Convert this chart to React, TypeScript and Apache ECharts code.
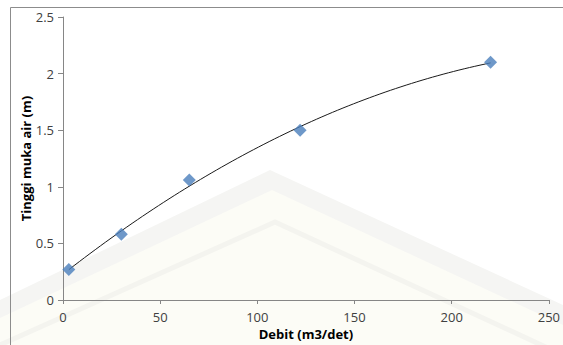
import React, { useEffect, useRef } from "react";
import * as echarts from "echarts";

const debit: number[] = [3, 30, 65, 122, 220];
const tinggi: number[] = [0.27, 0.58, 1.06, 1.5, 2.1];
const xTitle = "Debit (m3/det)";
const yTitle = "Tinggi muka air (m)";

// Least-squares 2nd order polynomial trendline (as in the spreadsheet trendline)
function polyFit2(xs: number[], ys: number[]): [number, number, number] {
  const n = xs.length;
  let s1 = 0, s2 = 0, s3 = 0, s4 = 0, t0 = 0, t1 = 0, t2 = 0;
  for (let i = 0; i < n; i++) {
    const x = xs[i], y = ys[i];
    s1 += x; s2 += x * x; s3 += x * x * x; s4 += x * x * x * x;
    t0 += y; t1 += x * y; t2 += x * x * y;
  }
  const M = [
    [n, s1, s2, t0],
    [s1, s2, s3, t1],
    [s2, s3, s4, t2],
  ];
  for (let c = 0; c < 3; c++) {
    let p = c;
    for (let r = c + 1; r < 3; r++) if (Math.abs(M[r][c]) > Math.abs(M[p][c])) p = r;
    [M[c], M[p]] = [M[p], M[c]];
    for (let r = 0; r < 3; r++) {
      if (r === c) continue;
      const f = M[r][c] / M[c][c];
      for (let k = c; k < 4; k++) M[r][k] -= f * M[c][k];
    }
  }
  return [M[0][3] / M[0][0], M[1][3] / M[1][1], M[2][3] / M[2][2]];
}

export default function App() {
  const ref = useRef<HTMLDivElement>(null);
  useEffect(() => {
    if (!ref.current) return;
    const chart = echarts.init(ref.current, undefined, { renderer: "svg" });
    const [a, b, c] = polyFit2(debit, tinggi);
    const xMin = Math.min(...debit), xMax = Math.max(...debit);
    const trend: number[][] = [];
    const steps = 80;
    for (let i = 0; i <= steps; i++) {
      const x = xMin + ((xMax - xMin) * i) / steps;
      trend.push([x, a + b * x + c * x * x]);
    }
    const font = "'Open Sans', 'Noto Sans', sans-serif";
    chart.setOption({
      animation: false,
      backgroundColor: "#ffffff",
      textStyle: { fontFamily: font },
      grid: { left: 63, right: 10, top: 17, bottom: 44 },
      graphic: [
        {
          type: "polygon",
          z: -10,
          silent: true,
          shape: { points: [[0, 345], [0, 300], [270, 170], [563, 305], [563, 345]] },
          style: { fill: "#f5f5f3" },
        },
        {
          type: "polygon",
          z: -9,
          silent: true,
          shape: { points: [[0, 345], [0, 318], [272, 190], [563, 325], [563, 345]] },
          style: { fill: "#fcfcf6" },
        },
        {
          type: "polyline",
          z: -8,
          silent: true,
          shape: { points: [[0, 345], [275, 222], [563, 355]] },
          style: { stroke: "#f4f4ef", lineWidth: 5, fill: "none" },
        },
        {
          type: "rect",
          z: -5,
          silent: true,
          shape: { x: 10.5, y: 7.5, width: 600, height: 400 },
          style: { fill: "none", stroke: "#8c8c8c", lineWidth: 1 },
        },
      ],
      xAxis: {
        type: "value",
        min: 0,
        max: 250,
        interval: 50,
        name: xTitle,
        nameLocation: "middle",
        nameGap: 27,
        nameMoveOverlap: false,
        nameTextStyle: { fontSize: 13, fontWeight: "bold", color: "#000", fontFamily: font },
        axisLine: { lineStyle: { color: "#868686" } },
        axisTick: { show: true, length: 4, lineStyle: { color: "#868686" } },
        axisLabel: { fontSize: 13, color: "#404040", margin: 10, fontFamily: font },
        splitLine: { show: false },
      },
      yAxis: {
        type: "value",
        min: 0,
        max: 2.5,
        interval: 0.5,
        name: yTitle,
        nameLocation: "middle",
        nameGap: 31,
        nameMoveOverlap: false,
        nameTextStyle: { fontSize: 13, fontWeight: "bold", color: "#000", fontFamily: font },
        axisLine: { show: true, lineStyle: { color: "#868686" } },
        axisTick: { show: true, length: 5, lineStyle: { color: "#868686" } },
        axisLabel: { fontSize: 13, color: "#404040", margin: 9, fontFamily: font },
        splitLine: { show: false },
      },
      series: [
        {
          type: "line",
          data: trend,
          showSymbol: false,
          symbol: "none",
          lineStyle: { color: "#1a1a1a", width: 1 },
          z: 2,
        },
        {
          type: "scatter",
          data: debit.map((x, i) => [x, tinggi[i]]),
          symbol: "diamond",
          symbolSize: 13,
          itemStyle: { color: "#4a7ebb" },
          z: 3,
        },
      ],
    });
    return () => chart.dispose();
  }, []);
  return (
    <div
      ref={ref}
      style={{ position: "fixed", left: 0, top: 0, width: 563, height: 345 }}
    />
  );
}
